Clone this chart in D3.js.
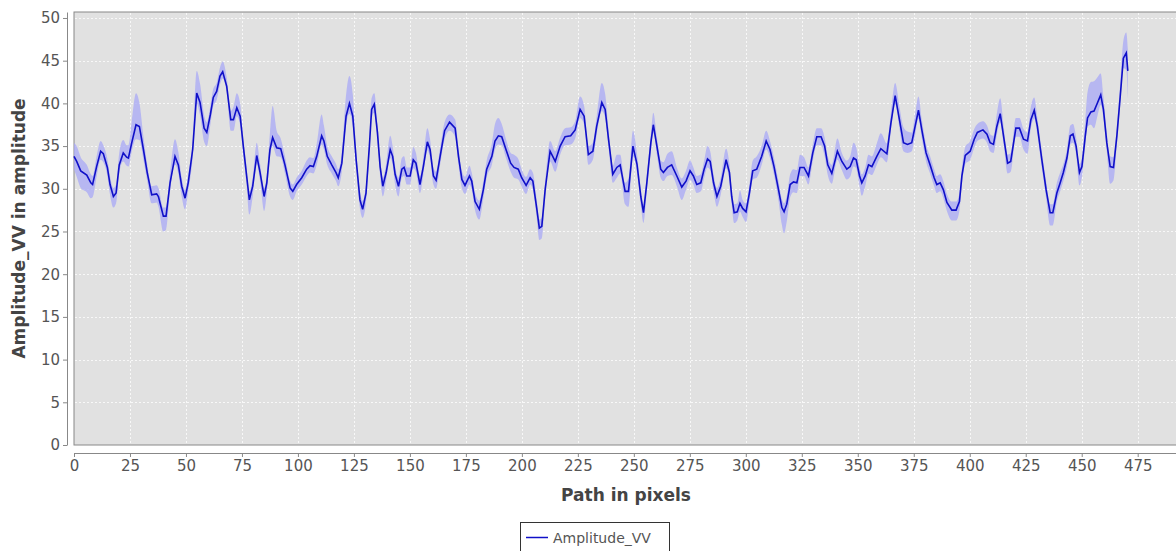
<!DOCTYPE html>
<html>
<head>
<meta charset="utf-8">
<script src="https://cdn.jsdelivr.net/npm/d3@7"></script>
<style>
  body { margin: 0; background: #fff; }
  svg { display: block; font-family: "DejaVu Sans", sans-serif; }
</style>
</head>
<body>
<svg id="chart" width="1176" height="551"></svg>
<script>
// path position (pixels) and amplitude
const pathX = [
  0, 1.2, 3, 5.7, 7.5, 8.3, 10.1, 11.9, 13.1, 14.9, 16.1, 17.6, 18.8, 20.2, 22, 23.5, 24.3, 25.8, 27.7, 29.2,
  31, 32.7, 34.7, 36.9, 37.7, 39.9, 41.1, 42.9, 45.1, 46.6, 48.1, 49.6, 51, 53, 54.8, 56.3, 58.1, 59.3, 60.9, 62.2,
  63.7, 65.2, 66.4, 68.2, 70, 71.2, 72.7, 74.2, 75.6, 77.1, 78.3, 79.8, 81.6, 83.1, 84.9, 86.1, 87.5, 88.7, 90.5, 92.3,
  94.2, 96.5, 97.7, 99.4, 101.7, 103.9, 105.4, 106.9, 108.4, 110.6, 111.6, 113.1, 115.1, 117, 118, 119.6, 121.5, 123, 124.5, 126,
  127.7, 128.9, 130.4, 131.9, 132.9, 134.1, 135.5, 136.7, 137.9, 139.4, 141.2, 142.3, 143.4, 144.9, 146.4, 147.4, 148.6, 150.1, 151.5, 152.7,
  154.5, 156, 157.8, 159, 160.5, 161.7, 163.5, 165.5, 167.7, 170.2, 171.7, 173.2, 174.6, 176.6, 177.6, 179.1, 181, 182.8, 184.3, 186.6,
  188, 189.5, 191, 192.9, 195, 196.5, 198.4, 199.9, 201.9, 203.7, 204.9, 206.7, 207.8, 208.9, 210.4, 212.6, 214.9, 217.1, 219.3, 221.8,
  223.8, 226, 227.8, 229.7, 231.7, 233.4, 235.7, 237.2, 238.7, 240.6, 242.4, 243.9, 246.1, 247.6, 249.6, 251.4, 253.1, 254.3, 255.8, 257.6,
  258.7, 260.3, 262, 263.2, 265, 266.9, 269.2, 271.4, 273.3, 275.1, 276.6, 278.1, 279.9, 281.4, 282.9, 284.1, 285.6, 287.1, 288.8, 291.2,
  292.7, 293.7, 294.8, 296.2, 297.4, 298.6, 300.1, 301.6, 303.1, 304.9, 307.1, 309.1, 310.8, 312.6, 314.6, 316.1, 317.1, 318.3, 319.8, 321.3,
  322.8, 324.2, 326, 328, 329.9, 331.7, 333.6, 335.2, 336.6, 338.4, 340.9, 342.9, 345.1, 346.6, 348.1, 349.3, 350.8, 351.8, 353.3, 354.8,
  356.3, 358.5, 360.3, 363, 364.8, 366.7, 368.6, 370.4, 372.2, 374.1, 375.6, 377.1, 378.6, 380.5, 382.3, 384.1, 385.3, 386.8, 388.2, 389.8,
  392, 393.9, 395.4, 396.5, 398, 400.2, 402, 403.4, 405.9, 407.7, 409.1, 410.6, 412.1, 413.6, 415.2, 416.9, 418.3, 420.6, 422.2, 424,
  425.8, 427.3, 428.8, 430.2, 432.2, 434.1, 435.9, 437.1, 438.9, 440.4, 441.8, 443.4, 444.9, 446.1, 447.5, 449, 450.1, 451.6, 452.6, 454.1,
  455.5, 457.1, 458.5, 459.7, 461.2, 462.7, 464.2, 465.7, 467.2, 468.6, 469.9, 470.6
];
const amplitude = [
  33.8, 33.2, 32.1, 31.6, 30.7, 30.5, 32.6, 34.4, 34.1, 32.5, 30.5, 29.1, 29.5, 32.8, 34.2, 33.7, 33.6, 35.4, 37.5, 37.3,
  34.6, 31.9, 29.3, 29.4, 29.1, 26.8, 26.8, 30.7, 33.8, 32.8, 30.3, 28.9, 30.7, 34.6, 41.2, 40.1, 37.1, 36.6, 38.7, 40.7,
  41.4, 43.2, 43.7, 42.0, 38.1, 38.1, 39.5, 38.5, 35.0, 31.5, 28.7, 30.3, 33.9, 31.9, 29.1, 30.7, 34.6, 36.0, 34.8, 34.7,
  32.8, 30.1, 29.7, 30.5, 31.3, 32.3, 32.7, 32.6, 33.8, 36.2, 35.6, 33.8, 32.8, 31.9, 31.3, 33.0, 38.5, 40.0, 38.5, 33.4,
  28.7, 27.6, 29.5, 35.0, 39.3, 39.9, 36.6, 32.6, 30.3, 31.9, 34.6, 33.8, 31.7, 30.3, 32.3, 32.5, 31.5, 31.5, 33.4, 33.0,
  30.5, 32.6, 35.5, 34.6, 31.5, 31.0, 33.8, 36.8, 37.8, 37.1, 33.8, 31.1, 30.4, 31.5, 30.9, 28.5, 27.6, 29.9, 32.3, 33.8,
  35.6, 36.2, 36.1, 34.6, 33.0, 32.5, 32.3, 31.3, 30.4, 31.3, 30.9, 27.6, 25.4, 25.6, 29.9, 34.4, 33.2, 35.0, 36.1, 36.2,
  36.9, 39.3, 38.5, 34.0, 34.4, 37.3, 40.1, 39.3, 35.8, 31.7, 32.5, 32.8, 29.7, 29.7, 35.0, 32.9, 29.1, 27.2, 30.7, 35.4,
  37.5, 35.0, 32.3, 31.9, 32.5, 32.8, 31.5, 30.2, 30.9, 32.1, 31.5, 30.5, 30.7, 32.3, 33.5, 33.2, 30.7, 29.1, 30.3, 33.4,
  31.9, 29.1, 27.2, 27.3, 28.3, 27.7, 27.3, 29.5, 32.1, 32.3, 33.8, 35.6, 34.6, 32.6, 29.9, 27.8, 27.3, 28.2, 30.5, 30.8,
  30.7, 32.5, 32.5, 31.5, 34.2, 36.1, 36.1, 35.0, 32.8, 31.8, 34.4, 33.2, 32.3, 32.6, 33.6, 33.4, 31.5, 30.7, 31.5, 32.8,
  32.6, 33.8, 34.7, 34.1, 37.7, 40.9, 38.1, 35.4, 35.2, 35.4, 37.3, 39.2, 36.9, 34.2, 32.8, 31.3, 30.5, 30.7, 29.9, 28.4,
  27.5, 27.5, 28.5, 31.5, 33.9, 34.4, 35.8, 36.6, 36.9, 36.4, 35.4, 35.2, 37.3, 38.8, 36.0, 33.0, 33.2, 37.1, 37.1, 35.8,
  35.6, 38.1, 39.2, 37.3, 33.4, 29.9, 27.2, 27.2, 29.5, 30.7, 31.9, 33.6, 36.2, 36.4, 35.0, 31.9, 32.6, 36.2, 38.3, 39.0,
  39.1, 40.1, 41.0, 39.3, 35.4, 32.6, 32.5, 36.2, 40.8, 45.3, 45.9, 43.8
];
// shaded spread band: distance above and below the line
const bandUp = [
  1.6, 1.8, 1.6, 1.2, 1.0, 1.0, 1.2, 1.2, 1.0, 1.0, 1.0, 1.0, 1.0, 1.4, 1.5, 1.4, 1.5, 2.5, 3.7, 2.8,
  1.5, 1.0, 1.0, 1.0, 1.0, 1.0, 1.0, 1.2, 2.0, 1.5, 1.0, 1.0, 1.0, 1.2, 2.6, 2.2, 1.5, 1.2, 1.0, 1.0,
  1.0, 1.0, 1.2, 1.0, 1.0, 1.5, 1.7, 1.5, 1.0, 1.0, 1.0, 1.0, 1.5, 1.0, 1.0, 1.0, 2.0, 3.7, 2.0, 1.2,
  1.0, 0.8, 0.8, 0.8, 0.8, 1.0, 1.0, 1.0, 1.5, 2.5, 1.8, 1.2, 1.0, 1.0, 1.0, 1.2, 2.5, 3.2, 2.5, 1.2,
  1.0, 1.0, 1.0, 1.0, 1.3, 1.3, 1.0, 1.0, 1.0, 1.0, 1.6, 1.2, 1.0, 1.0, 1.3, 1.3, 1.0, 1.0, 1.5, 1.2,
  1.0, 1.0, 1.6, 1.2, 1.0, 1.0, 1.0, 1.0, 0.9, 1.0, 1.0, 1.0, 1.0, 1.2, 1.0, 1.0, 1.0, 1.0, 1.0, 1.5,
  2.0, 2.1, 1.5, 1.2, 1.2, 1.5, 1.2, 1.0, 1.0, 1.0, 1.0, 1.0, 1.0, 1.0, 1.0, 1.2, 1.2, 1.0, 1.0, 1.0,
  1.0, 1.5, 1.2, 1.0, 1.0, 1.2, 2.3, 1.8, 1.2, 1.0, 1.5, 1.2, 1.0, 1.5, 1.8, 1.2, 1.0, 1.0, 1.0, 1.0,
  1.4, 1.0, 1.0, 1.2, 1.6, 1.6, 1.0, 1.0, 1.2, 1.2, 1.0, 1.0, 1.0, 1.0, 1.5, 1.2, 1.0, 1.0, 1.0, 1.3,
  1.0, 1.0, 1.0, 1.0, 1.5, 1.0, 1.0, 1.0, 1.2, 1.5, 1.2, 1.2, 1.0, 1.0, 1.0, 1.0, 1.0, 1.0, 1.2, 1.5,
  1.5, 1.5, 1.2, 1.0, 1.0, 1.0, 1.0, 1.0, 1.0, 1.0, 1.5, 1.0, 1.0, 1.2, 1.8, 1.5, 1.0, 1.0, 1.0, 1.2,
  1.2, 1.5, 1.8, 1.2, 1.2, 1.5, 1.5, 1.8, 1.5, 1.2, 1.5, 1.6, 1.2, 1.0, 1.0, 1.0, 1.0, 1.0, 1.0, 1.0,
  1.0, 1.0, 1.0, 1.0, 1.0, 1.2, 1.2, 1.0, 1.0, 1.0, 1.0, 1.0, 1.5, 1.8, 1.2, 1.0, 1.0, 1.2, 1.2, 1.2,
  1.0, 1.5, 1.5, 1.0, 1.0, 1.0, 1.0, 1.0, 1.2, 1.2, 1.0, 1.0, 1.2, 1.2, 1.0, 1.0, 1.0, 2.0, 3.0, 3.5,
  3.5, 3.0, 2.5, 1.5, 1.2, 1.2, 1.2, 1.2, 1.5, 2.0, 2.4, 2.5
];
const bandDown = [
  1.5, 1.8, 2.0, 2.0, 1.8, 1.5, 1.2, 1.0, 1.0, 1.0, 1.2, 1.3, 1.2, 1.0, 1.0, 1.0, 1.0, 1.0, 1.7, 1.6,
  1.2, 1.0, 1.0, 1.0, 1.2, 1.8, 1.6, 1.0, 1.0, 1.0, 1.2, 1.3, 1.0, 1.0, 1.2, 1.5, 1.6, 1.6, 1.2, 1.0,
  1.0, 1.0, 0.8, 0.8, 1.3, 1.3, 1.0, 1.0, 1.0, 1.2, 1.7, 1.2, 1.0, 1.0, 1.7, 1.2, 1.0, 1.0, 1.0, 1.0,
  1.0, 1.0, 1.0, 0.8, 0.8, 0.8, 0.8, 0.8, 1.0, 1.0, 1.0, 1.0, 1.0, 1.0, 1.0, 1.0, 1.0, 1.2, 1.2, 1.0,
  1.0, 1.0, 1.0, 1.0, 1.0, 1.0, 1.0, 1.0, 1.2, 1.0, 1.0, 1.0, 1.2, 1.2, 1.0, 1.0, 1.0, 1.0, 1.0, 1.0,
  1.0, 1.0, 1.0, 1.0, 1.0, 1.0, 1.0, 1.0, 1.0, 1.0, 1.0, 1.0, 1.0, 1.0, 1.0, 1.0, 1.2, 1.0, 1.0, 1.0,
  1.0, 1.0, 1.0, 1.0, 1.0, 1.2, 1.2, 1.0, 1.0, 0.8, 1.0, 1.2, 1.4, 1.4, 1.0, 1.2, 1.2, 1.0, 1.0, 1.0,
  1.0, 1.0, 1.0, 1.2, 1.0, 1.0, 1.0, 1.0, 1.0, 1.0, 1.2, 1.0, 1.5, 1.8, 1.2, 1.0, 1.0, 1.2, 1.0, 1.0,
  1.0, 1.0, 1.0, 1.0, 1.0, 1.2, 1.2, 1.5, 1.0, 1.0, 1.0, 1.0, 1.0, 1.0, 1.0, 1.0, 1.0, 1.2, 1.0, 1.0,
  1.0, 1.0, 1.2, 1.0, 1.0, 1.0, 1.2, 1.0, 1.0, 1.0, 1.0, 1.0, 1.0, 1.0, 1.3, 2.0, 2.5, 2.0, 1.5, 1.2,
  1.2, 1.0, 1.0, 1.0, 1.0, 1.0, 1.0, 1.2, 1.2, 1.2, 1.0, 1.0, 1.2, 1.2, 1.0, 1.0, 1.2, 1.5, 1.2, 1.0,
  1.0, 1.0, 1.0, 1.0, 1.0, 1.0, 1.0, 1.0, 1.0, 1.0, 1.0, 1.0, 1.0, 1.0, 1.0, 1.0, 1.0, 1.0, 1.0, 1.0,
  1.2, 1.2, 1.0, 1.0, 1.0, 1.0, 1.0, 1.0, 1.0, 1.0, 1.0, 1.0, 1.0, 1.0, 1.0, 1.2, 1.2, 1.0, 1.0, 1.2,
  1.5, 1.0, 1.0, 1.0, 1.0, 1.0, 1.5, 1.5, 1.0, 1.0, 1.0, 1.0, 1.0, 1.0, 1.0, 1.5, 1.2, 1.0, 1.0, 1.5,
  2.0, 1.5, 1.2, 1.0, 1.0, 2.0, 1.5, 1.0, 1.0, 1.2, 2.0, 3.3
];
const xTicks = d3.range(0, 476, 25);
const yTicks = d3.range(0, 51, 5);
const seriesName = 'Amplitude_VV';

const data = pathX.map((x, i) => ({ x: x, y: amplitude[i], up: bandUp[i], dn: bandDown[i] }));

const svg = d3.select('#chart');
const plot = { left: 74, top: 12, right: 1178, bottom: 445 };

const x = d3.scaleLinear().domain([0, 493]).range([plot.left, plot.right]);
const y = d3.scaleLinear().domain([0, 50.7]).range([plot.bottom, plot.top]);

// plot background
svg.append('rect')
  .attr('x', plot.left).attr('y', plot.top)
  .attr('width', plot.right - plot.left).attr('height', plot.bottom - plot.top)
  .attr('fill', '#e1e1e1')
  .attr('stroke', '#888').attr('stroke-width', 1);

// dashed gridlines
const grid = svg.append('g').attr('stroke', '#f8f8f8').attr('stroke-width', 1).attr('stroke-dasharray', '2,2');
grid.selectAll('.gx').data(xTicks.slice(1)).enter().append('line')
  .attr('x1', d => Math.round(x(d)) + 0.5).attr('x2', d => Math.round(x(d)) + 0.5)
  .attr('y1', plot.top + 1).attr('y2', plot.bottom - 1);
grid.selectAll('.gy').data(yTicks.slice(1)).enter().append('line')
  .attr('y1', d => Math.round(y(d)) + 0.5).attr('y2', d => Math.round(y(d)) + 0.5)
  .attr('x1', plot.left + 1).attr('x2', plot.right);

// spread band and line
svg.append('path')
  .datum(data)
  .attr('fill', '#a8a8f6').attr('opacity', 0.75)
  .attr('d', d3.area().x(d => x(d.x)).y0(d => y(d.y - d.dn)).y1(d => y(d.y + d.up)).curve(d3.curveMonotoneX));

svg.append('path')
  .datum(data)
  .attr('fill', 'none').attr('stroke', '#1010c8').attr('stroke-width', 1.6)
  .attr('d', d3.line().x(d => x(d.x)).y(d => y(d.y)));

// axes
const xAxis = svg.append('g')
  .attr('transform', 'translate(0,453)')
  .call(d3.axisBottom(x).tickValues(xTicks).tickSize(4).tickPadding(3).tickSizeOuter(0));
const yAxis = svg.append('g')
  .attr('transform', 'translate(67,0)')
  .call(d3.axisLeft(y).tickValues(yTicks).tickSize(4).tickPadding(3).tickSizeOuter(0));

[xAxis, yAxis].forEach(a => {
  a.select('.domain').attr('stroke', '#888');
  a.selectAll('.tick line').attr('stroke', '#888');
  a.selectAll('.tick text').attr('fill', '#555').style('font-size', '15px')
    .style('font-family', '"DejaVu Sans", sans-serif');
});

// axis titles
svg.append('text')
  .attr('x', (plot.left + plot.right) / 2).attr('y', 501)
  .attr('text-anchor', 'middle')
  .attr('fill', '#444').style('font-size', '17px').style('font-weight', 'bold')
  .text('Path in pixels');

svg.append('text')
  .attr('transform', `translate(25,${(plot.top + plot.bottom) / 2}) rotate(-90)`)
  .attr('text-anchor', 'middle')
  .attr('fill', '#444').style('font-size', '17px').style('font-weight', 'bold')
  .text('Amplitude_VV in amplitude');

// legend
const legend = svg.append('g').attr('transform', 'translate(520,522)');
legend.append('rect')
  .attr('x', 0.5).attr('y', 0.5).attr('width', 149).attr('height', 30)
  .attr('fill', '#fff').attr('stroke', '#333');
legend.append('line')
  .attr('x1', 6).attr('x2', 28).attr('y1', 15.5).attr('y2', 15.5)
  .attr('stroke', '#1010c8').attr('stroke-width', 1.5);
legend.append('text')
  .attr('x', 33).attr('y', 20.5)
  .attr('fill', '#555').style('font-size', '14px')
  .text(seriesName);
</script>
</body>
</html>
